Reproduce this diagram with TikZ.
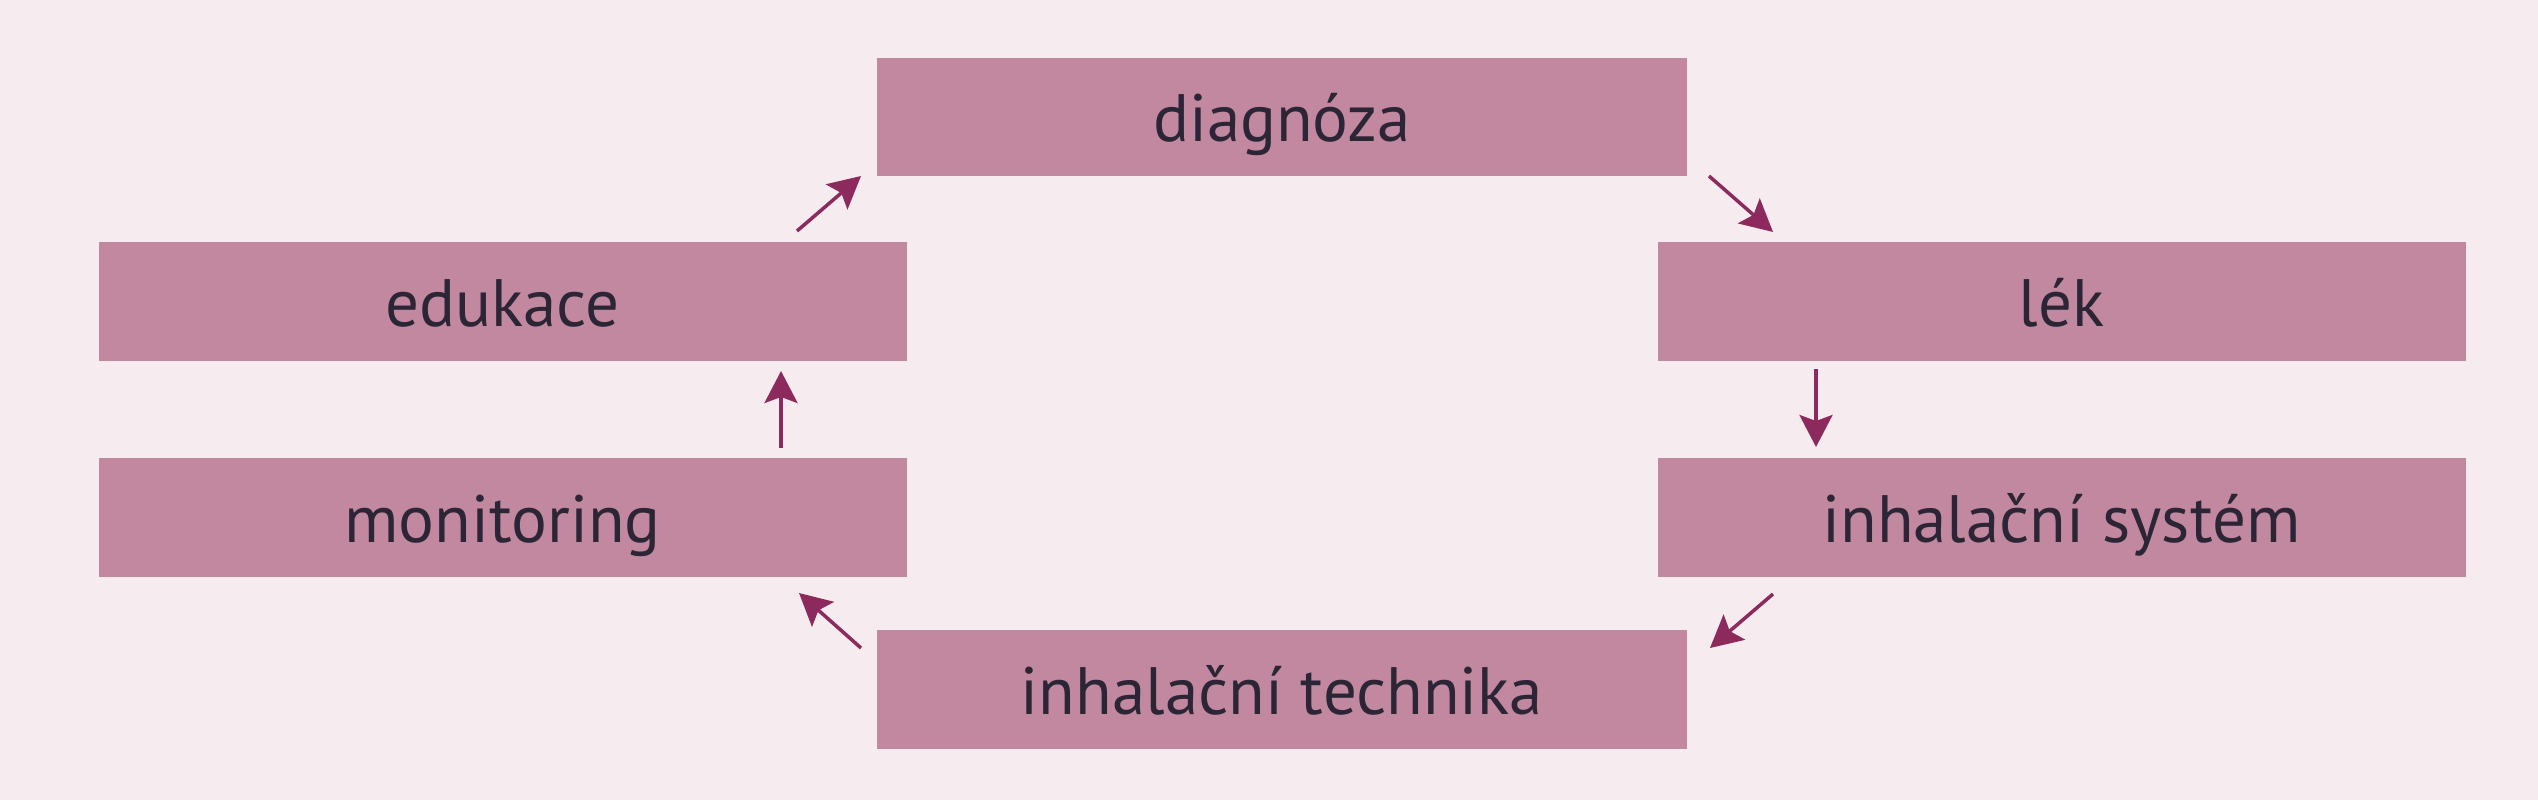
\documentclass[tikz,border=0pt]{standalone}
\usepackage{fontspec}
\setmainfont{PT Sans}
\usetikzlibrary{arrows.meta}
\definecolor{bgc}{HTML}{F6ECF0}
\definecolor{boxc}{HTML}{C1889F}
\definecolor{arrc}{HTML}{8C2A5E}
\definecolor{txtc}{HTML}{2B2535}
\tikzset{
  stepbox/.style={rectangle, fill=boxc, draw=none, minimum width=808pt, minimum height=118pt,
    inner sep=0pt, text=txtc, font=\fontsize{67}{75}\selectfont, text height=49pt, text depth=0pt},
  flowarrow/.style={draw=arrc, line width=3.5pt, -{Stealth[length=32pt,width=33pt,inset=6pt]}}
}
\begin{document}
\begin{tikzpicture}[x=1pt,y=-1pt]
\fill[bgc] (0,0) rectangle (2538,800);
\useasboundingbox (0,0) rectangle (2538,800);
\node[stepbox, minimum width=810pt] (diag) at (1282,117) {diagnóza};
\node[stepbox, minimum height=119pt] (edu) at (502.5,301.5) {edukace};
\node[stepbox, minimum height=119pt] (lek) at (2061.5,301.5) {lék};
\node[stepbox, minimum height=119pt] (mon) at (502.5,517.5) {monitoring};
\node[stepbox, minimum height=119pt] (sys) at (2061.5,517.5) {inhalační systém};
\node[stepbox, minimum width=810pt, minimum height=119pt] (tech) at (1282,689.5) {inhalační technika};
\coordinate (a1s) at (797,231); \coordinate (a1e) at (861,176);
\coordinate (a2s) at (1709,176); \coordinate (a2e) at (1773,232);
\coordinate (a3s) at (1816,369); \coordinate (a3e) at (1816,447);
\coordinate (a4s) at (1773,594); \coordinate (a4e) at (1710,648);
\coordinate (a5s) at (861,648); \coordinate (a5e) at (799,593);
\coordinate (a6s) at (781,448); \coordinate (a6e) at (781,371);
\draw[flowarrow] (a1s) -- (a1e);
\draw[flowarrow] (a2s) -- (a2e);
\draw[flowarrow] (a3s) -- (a3e);
\draw[flowarrow] (a4s) -- (a4e);
\draw[flowarrow] (a5s) -- (a5e);
\draw[flowarrow] (a6s) -- (a6e);
\end{tikzpicture}
\end{document}
